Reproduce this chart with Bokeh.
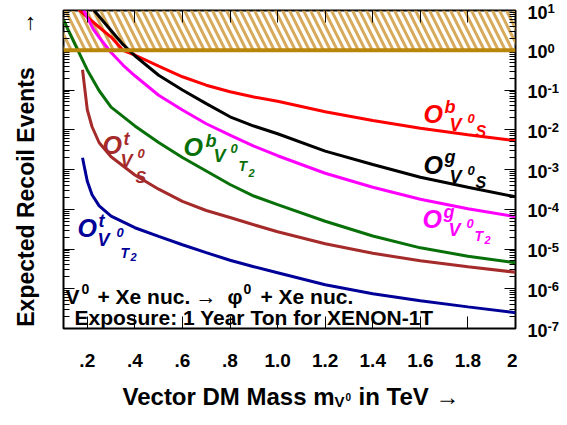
import math
from bokeh.plotting import figure
from bokeh.layouts import row, column
from bokeh.models import (Range1d, LogAxis, LinearAxis, FixedTicker,
                          CustomJSTickFormatter, Label, Span)
from bokeh.embed import file_html
from bokeh.resources import INLINE

# ---------------- data ----------------
mass_range = [0.1, 2.0]            # TeV
events_range = [1e-7, 1e1]
excluded_band = [1.0, 10.0]        # events >= 1 hatched region

mass_ob_s = [0.15, 0.2, 0.25, 0.3, 0.35, 0.4, 0.5, 0.6, 0.7, 0.8, 0.9, 1.0, 1.2, 1.4, 1.6, 1.8, 2.0]
events_ob_s = [12.5, 6.8, 3.79, 2.14, 1.0, 0.76, 0.40, 0.215, 0.132, 0.090, 0.0664, 0.052, 0.0284, 0.0170, 0.0109, 0.0075, 0.0053]

mass_og_s = [0.21, 0.25, 0.3, 0.35, 0.4, 0.5, 0.6, 0.7, 0.8, 0.9, 1.0, 1.2, 1.4, 1.6, 1.8, 2.0]
events_og_s = [13.5, 7.08, 3.15, 1.40, 0.727, 0.235, 0.0996, 0.0454, 0.0212, 0.0124, 0.00794, 0.00290, 0.00134, 0.00064, 0.000357, 0.000206]

mass_og_t2 = [0.17, 0.2, 0.225, 0.25, 0.3, 0.35, 0.4, 0.5, 0.6, 0.7, 0.8, 0.9, 1.0, 1.2, 1.4, 1.6, 1.8, 2.0]
events_og_t2 = [15.3, 6.73, 3.4, 2.11, 0.88, 0.425, 0.228, 0.0738, 0.0313, 0.01416, 0.0073, 0.00389, 0.00222, 0.000805, 0.000357, 0.000179, 0.000103, 6.5e-5]

mass_ob_t2 = [0.1, 0.12, 0.15, 0.2, 0.25, 0.3, 0.4, 0.5, 0.6, 0.7, 0.8, 0.9, 1.0, 1.2, 1.4, 1.6, 1.8, 2.0]
events_ob_t2 = [5.85, 3.22, 1.34, 0.319, 0.0957, 0.0372, 0.01247, 0.00476, 0.0020, 9.2e-4, 4.2e-4, 2.15e-4, 1.31e-4, 5.0e-5, 2.13e-5, 1.07e-5, 6.6e-6, 4.5e-6]

mass_ot_s = [0.18, 0.19, 0.2, 0.22, 0.25, 0.3, 0.4, 0.5, 0.6, 0.7, 0.8, 0.9, 1.0, 1.2, 1.4, 1.6, 1.8, 2.0]
events_ot_s = [0.323, 0.101, 0.0318, 0.0119, 0.00471, 0.00209, 7.3e-4, 3.2e-4, 1.58e-4, 9.3e-5, 6.2e-5, 4.07e-5, 2.72e-5, 1.36e-5, 7.8e-6, 5.06e-6, 3.58e-6, 2.6e-6]

mass_ot_t2 = [0.18, 0.19, 0.2, 0.22, 0.25, 0.3, 0.4, 0.5, 0.6, 0.7, 0.8, 0.9, 1.0, 1.2, 1.4, 1.6, 1.8, 2.0]
events_ot_t2 = [1.98e-3, 9.9e-4, 5.06e-4, 2.32e-4, 1.22e-4, 6.7e-5, 3.43e-5, 2.07e-5, 1.28e-5, 8.1e-6, 5.2e-6, 3.57e-6, 2.53e-6, 1.26e-6, 7.5e-7, 5.0e-7, 3.5e-7, 2.5e-7]

x_ticks = [0.2, 0.4, 0.6, 0.8, 1.0, 1.2, 1.4, 1.6, 1.8, 2.0]
x_tick_labels = [".2", ".4", ".6", ".8", "1.0", "1.2", "1.4", "1.6", "1.8", "2"]
y_ticks = [1e-7, 1e-6, 1e-5, 1e-4, 1e-3, 1e-2, 1e-1, 1e0, 1e1]
y_tick_base = "10"
y_tick_exponents = ["-7", "-6", "-5", "-4", "-3", "-2", "-1", "0", "1"]
y_minor_ticks = [k * 10.0 ** e for e in range(-7, 1) for k in range(2, 10)]

# ---------------- layout & styles ----------------
FONT = "Liberation Sans"
RED, BLACK, MAGENTA = "#ff0000", "#000000", "#ff00ff"
GREEN, BROWN, BLUE = "#087008", "#a52a2a", "#000099"
HATCH, LIMIT = "#d6aa5a", "#b8860b"
BASELINE_FIX = 0.3   # raise labels so their baseline sits on the anchor

TOTAL_W, TOTAL_H = 559, 409
MAIN_W, MAIN_H = 517, 383
BORDER_L, BORDER_R, BORDER_T, BORDER_B = 63, 2, 10, 55

p = figure(width=MAIN_W, height=MAIN_H,
           x_range=Range1d(*mass_range), y_range=Range1d(*events_range),
           y_axis_type="log", output_backend="svg", toolbar_location=None,
           min_border_left=BORDER_L, min_border_right=BORDER_R,
           min_border_top=BORDER_T, min_border_bottom=BORDER_B)
p.grid.visible = False
p.outline_line_color = "black"
p.outline_line_width = 2
p.background_fill_color = "white"
p.border_fill_color = "white"


def fmt(vals, labels):
    return CustomJSTickFormatter(args=dict(tv=vals, tl=labels), code="""
        let best = 0, bd = Infinity;
        for (let i = 0; i < tv.length; i++) {
            const d = Math.abs(tv[i] - tick);
            if (d < bd) { bd = d; best = i; }
        }
        return tl[best];
    """)


def style_axis(ax, major=12, minor=6, labels=False):
    ax.axis_line_color = None
    ax.major_tick_in = major
    ax.major_tick_out = 0
    ax.minor_tick_in = minor
    ax.minor_tick_out = 0
    ax.major_tick_line_color = "black"
    ax.minor_tick_line_color = "black"
    ax.major_label_text_font = FONT
    ax.major_label_text_font_style = "bold"
    if not labels:
        ax.major_label_text_font_size = "1px"
        ax.major_label_text_color = None
        ax.major_label_standoff = 0
    else:
        ax.major_label_text_color = "black"


# bottom axis
xb = p.xaxis[0]
xb.ticker = FixedTicker(ticks=x_ticks, minor_ticks=[])
xb.formatter = fmt(x_ticks, x_tick_labels)
style_axis(xb, 12, 0, labels=True)
xb.major_label_text_font_size = "19px"
xb.major_label_standoff = 25

# top axis (ticks only)
xt = LinearAxis(ticker=FixedTicker(ticks=x_ticks, minor_ticks=[]))
style_axis(xt, 12, 0)
p.add_layout(xt, "above")

# left axis (ticks + title)
yl = p.yaxis[0]
yl.ticker = FixedTicker(ticks=y_ticks, minor_ticks=y_minor_ticks)
style_axis(yl, 11, 6)
yl.axis_label = "Expected Recoil Events" + "\u00a0" * 5 + "\u2192"
yl.axis_label_text_font = FONT
yl.axis_label_text_font_style = "bold"
yl.axis_label_text_font_size = "23px"
yl.axis_label_text_color = "black"
yl.axis_label_standoff = 25

# right axis (ticks; labels drawn in the side panel)
yr = LogAxis(ticker=FixedTicker(ticks=y_ticks, minor_ticks=y_minor_ticks))
style_axis(yr, 11, 6)
p.add_layout(yr, "right")

# hatched excluded region
p.quad(left=[mass_range[0]], right=[mass_range[1]],
       bottom=[excluded_band[0]], top=[excluded_band[1]],
       fill_color=None, line_color=None, hatch_pattern="\\",
       hatch_color=HATCH, hatch_weight=3, hatch_scale=14)

# curves
curves = [
    (mass_ob_s, events_ob_s, RED),
    (mass_og_s, events_og_s, BLACK),
    (mass_og_t2, events_og_t2, MAGENTA),
    (mass_ob_t2, events_ob_t2, GREEN),
    (mass_ot_s, events_ot_s, BROWN),
    (mass_ot_t2, events_ot_t2, BLUE),
]
for xs, ys, c in curves:
    p.line(xs, ys, line_color=c, line_width=3)

p.add_layout(Span(location=excluded_band[0], dimension="width",
                  line_color=LIMIT, line_width=4))


def add_pieces(fig, x, y, pieces, color, style="bold"):
    # each piece: text, dx (px right), dy (px down, baseline), font size px
    for txt, dx, dy, size in pieces:
        fig.add_layout(Label(x=x, y=y, x_offset=dx,
                             y_offset=-dy + BASELINE_FIX * size, text=txt,
                             text_font=FONT, text_font_size="%dpx" % size,
                             text_font_style=style, text_color=color,
                             text_align="left", text_baseline="alphabetic"))


# curve labels: (anchor mass, anchor events, pieces, colour)
curve_labels = [
    (1.613, 0.0159, [("O", 0, 0, 25), ("b", 21, -9, 18), ("V", 26, 9, 18),
                     ("0", 44, 1, 13), ("S", 52, 15, 16)], RED),
    (1.613, 8.3e-4, [("O", 0, 0, 25), ("g", 21, -10, 18), ("V", 26, 10, 18),
                     ("0", 44, 2, 13), ("S", 52, 15, 16)], BLACK),
    (1.609, 3.63e-5, [("O", 0, 0, 25), ("g", 21, -9, 18), ("V", 26, 9, 18),
                      ("0", 44, 1, 13), ("T", 52, 13, 14), ("2", 62, 17, 11)], MAGENTA),
    (0.604, 2.35e-3, [("O", 0, 0, 25), ("b", 22, -8, 18), ("V", 30, 7, 18),
                      ("0", 47, -2, 13), ("T", 55, 15, 14), ("2", 65, 22, 11)], GREEN),
    (0.264, 2.64e-3, [("O", 0, 0, 25), ("t", 21, -8, 18), ("V", 18, 14, 18),
                      ("0", 35, 5, 13), ("S", 33, 30, 16)], BROWN),
    (0.159, 2.15e-5, [("O", 0, 0, 25), ("t", 21, -9, 18), ("V", 20, 10, 18),
                      ("0", 39, 1, 13), ("T", 43, 21, 14), ("2", 53, 25, 11)], BLUE),
]
for lx, ly, pcs, c in curve_labels:
    add_pieces(p, lx, ly, pcs, c, "bold italic")

# process text (anchored at lower-left corner of the frame)
x0, y0 = mass_range[0], events_range[0]
add_pieces(p, x0, y0, [("V", 2, -25.5, 21), ("0", 18, -35.5, 14),
                       ("+ Xe nuc.", 34, -25.5, 21), ("\u2192", 132, -25.5, 21),
                       ("\u03c6", 164, -25.5, 21), ("0", 180, -35.5, 14),
                       ("+ Xe nuc.", 197, -25.5, 21)], BLACK)
add_pieces(p, x0, y0, [("Exposure: 1 Year Ton for XENON-1T", 11, -4.5, 21)], BLACK)

# ---- x-axis title panel (below) ----
TITLE_H = TOTAL_H - MAIN_H
pt = figure(width=MAIN_W, height=TITLE_H, x_range=p.x_range, y_range=Range1d(0, 1),
            output_backend="svg", toolbar_location=None,
            x_axis_location=None, y_axis_location=None, min_border=0,
            min_border_left=BORDER_L, min_border_right=BORDER_R,
            min_border_top=0, min_border_bottom=0)
pt.grid.visible = False
pt.outline_line_color = None
pt.border_fill_color = "white"
pt.background_fill_color = "white"
add_pieces(pt, x0, 0, [("Vector DM Mass m", 59, -6, 24), ("V", 271, -3.5, 15),
                       ("0", 282, -10, 10), ("in TeV \u2192", 295, -6, 24)], BLACK)

# ---- right tick-label panel, aligned with the main frame ----
frame_top, frame_bot = BORDER_T, MAIN_H - BORDER_B
lo, hi = math.log10(events_range[0]), math.log10(events_range[1])
px_per_dec = (frame_bot - frame_top) / (hi - lo)
side_range = Range1d(10 ** (lo - (TOTAL_H - frame_bot) / px_per_dec),
                     10 ** (hi + frame_top / px_per_dec))
pr = figure(width=TOTAL_W - MAIN_W, height=TOTAL_H, x_range=Range1d(0, 1),
            y_range=side_range, y_axis_type="log",
            output_backend="svg", toolbar_location=None,
            x_axis_location=None, y_axis_location=None, min_border=0,
            min_border_left=0, min_border_right=0,
            min_border_top=0, min_border_bottom=0)
pr.grid.visible = False
pr.outline_line_color = None
pr.border_fill_color = "white"
pr.background_fill_color = "white"
for t, e in zip(y_ticks, y_tick_exponents):
    add_pieces(pr, 0, t, [(y_tick_base, 10, 7, 18), (e, 30, 2, 13)], BLACK)

layout = row(column(p, pt), pr)
open("out.html", "w").write(file_html(layout, INLINE))
